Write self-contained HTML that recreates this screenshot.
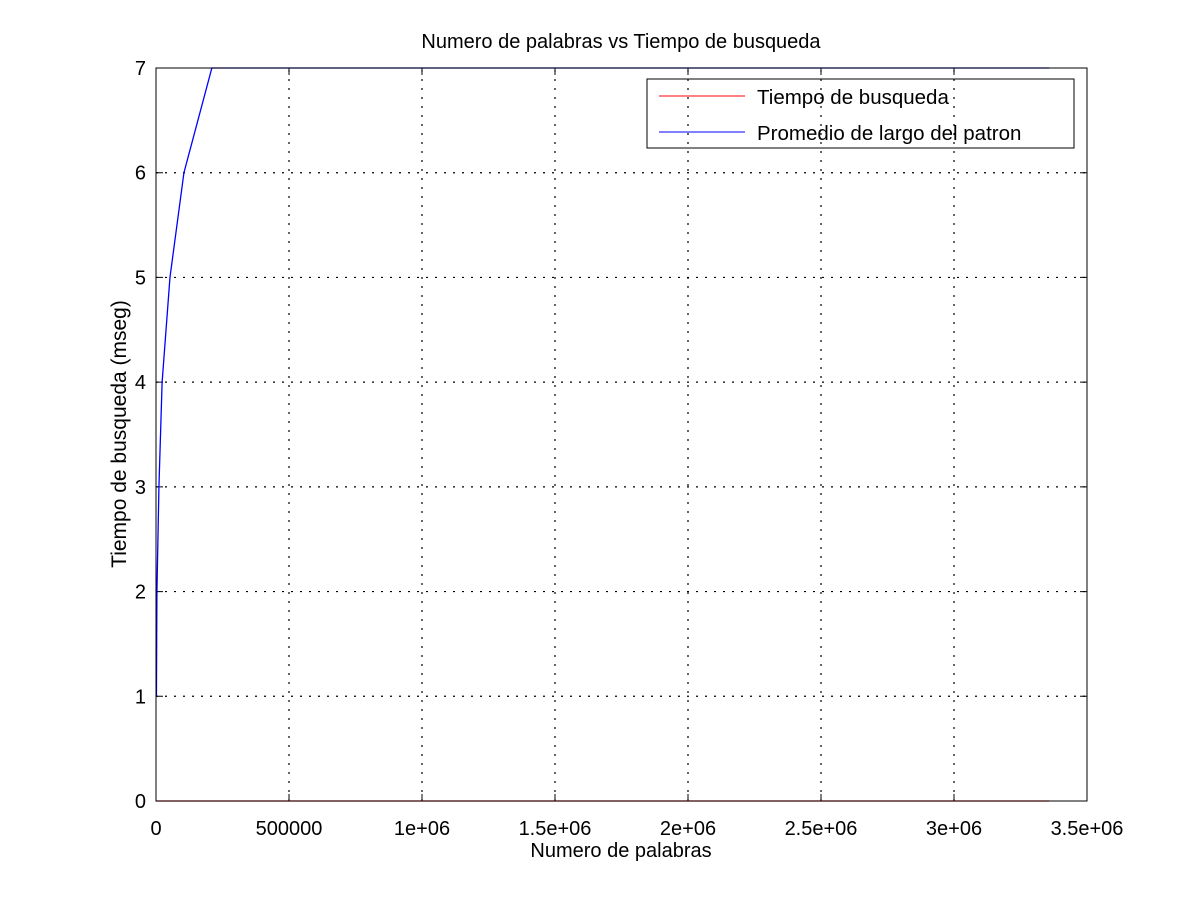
<!DOCTYPE html>
<html><head><meta charset="utf-8"><style>
body{margin:0;background:#fff}
svg{display:block;font-family:"Liberation Sans",sans-serif}
</style></head><body>
<svg id="chart" width="1200" height="902">
<rect width="1200" height="902" fill="#fff"/>
<g id="grid"></g>
<g id="ticks"></g>
<g id="series"></g>
<rect x="156" y="68" width="931" height="733" fill="none" stroke="#000" stroke-width="1"/>
<text x="621" y="48" text-anchor="middle" font-size="20">Numero de palabras vs Tiempo de busqueda</text>
<text x="621" y="857" text-anchor="middle" font-size="20">Numero de palabras</text>
<text transform="translate(126,434) rotate(-90)" text-anchor="middle" font-size="21">Tiempo de busqueda (mseg)</text>
<g>
<rect x="647" y="79" width="427" height="69" fill="none" stroke="#000" stroke-width="1"/>
<line x1="659" y1="96" x2="745" y2="96" stroke="#f00"/>
<text x="757" y="104" font-size="20.5">Tiempo de busqueda</text>
<line x1="659" y1="132" x2="745" y2="132" stroke="#00f"/>
<text x="757" y="140" font-size="20.5">Promedio de largo del patron</text>
</g>
</svg>
<script>
const xTicks=[0,500000,1000000,1500000,2000000,2500000,3000000,3500000];
const xTickLabels=["0","500000","1e+06","1.5e+06","2e+06","2.5e+06","3e+06","3.5e+06"];
const yTicks=[0,1,2,3,4,5,6,7];
const xValues=[1600,3500,11000,23000,52500,105000,210000,420000,840000,1680000,3358000];
const tiempoValues=[0,0,0,0,0,0,0,0,0,0,0];
const promedioValues=[1,2,3,4,5,6,7,7,7,7,7];
const X0=156,X1=1087,Y0=801,Y1=68;
const sx=v=>X0+(v-0)/3500000*(X1-X0);
const sy=v=>Y0-(v-0)/7*(Y0-Y1);
const NS="http://www.w3.org/2000/svg";
const grid=document.getElementById('grid'),ticks=document.getElementById('ticks'),series=document.getElementById('series');
function mk(tag,attrs,parent){const e=document.createElementNS(NS,tag);for(const k in attrs)e.setAttribute(k,attrs[k]);parent.appendChild(e);return e;}
xTicks.forEach((t,i)=>{
  const x=sx(t);
  if(i>0&&i<xTicks.length-1){
    const g=mk('line',{x1:x,y1:Y0,x2:x,y2:Y1,stroke:'#000','stroke-dasharray':'2,7','stroke-width':1.2},grid);
    
    
  }
  const tk=mk('path',{d:`M${x},${Y0}v-7M${x},${Y1}v7`,stroke:'#000'},ticks);
  
  
  const lb=mk('text',{x:x,y:Y0+34,'text-anchor':'middle','font-size':20},ticks);
  lb.textContent=xTickLabels[i];
  
  
});
yTicks.forEach((t,i)=>{
  const y=sy(t);
  if(i>0&&i<yTicks.length-1){
    const g=mk('line',{x1:X0,y1:y,x2:X1,y2:y,stroke:'#000','stroke-dasharray':'2,7','stroke-width':1.2},grid);
    
    
  }
  const tk=mk('path',{d:`M${X0},${y}h7M${X1},${y}h-7`,stroke:'#000'},ticks);
  
  
  const lb=mk('text',{x:X0-10,y:y+7,'text-anchor':'end','font-size':20},ticks);
  lb.textContent=String(t);
  
  
});
const redPts=xValues.map((x,i)=>sx(x)+','+sy(tiempoValues[i])).join(' ');
const red=mk('polyline',{points:redPts,fill:'none',stroke:'#f00','stroke-width':1.3},series);


const bluePts=xValues.map((x,i)=>sx(x)+','+sy(promedioValues[i])).join(' ');
const blue=mk('polyline',{points:bluePts,fill:'none',stroke:'#00f','stroke-width':1.3},series);


</script>
</body></html>
